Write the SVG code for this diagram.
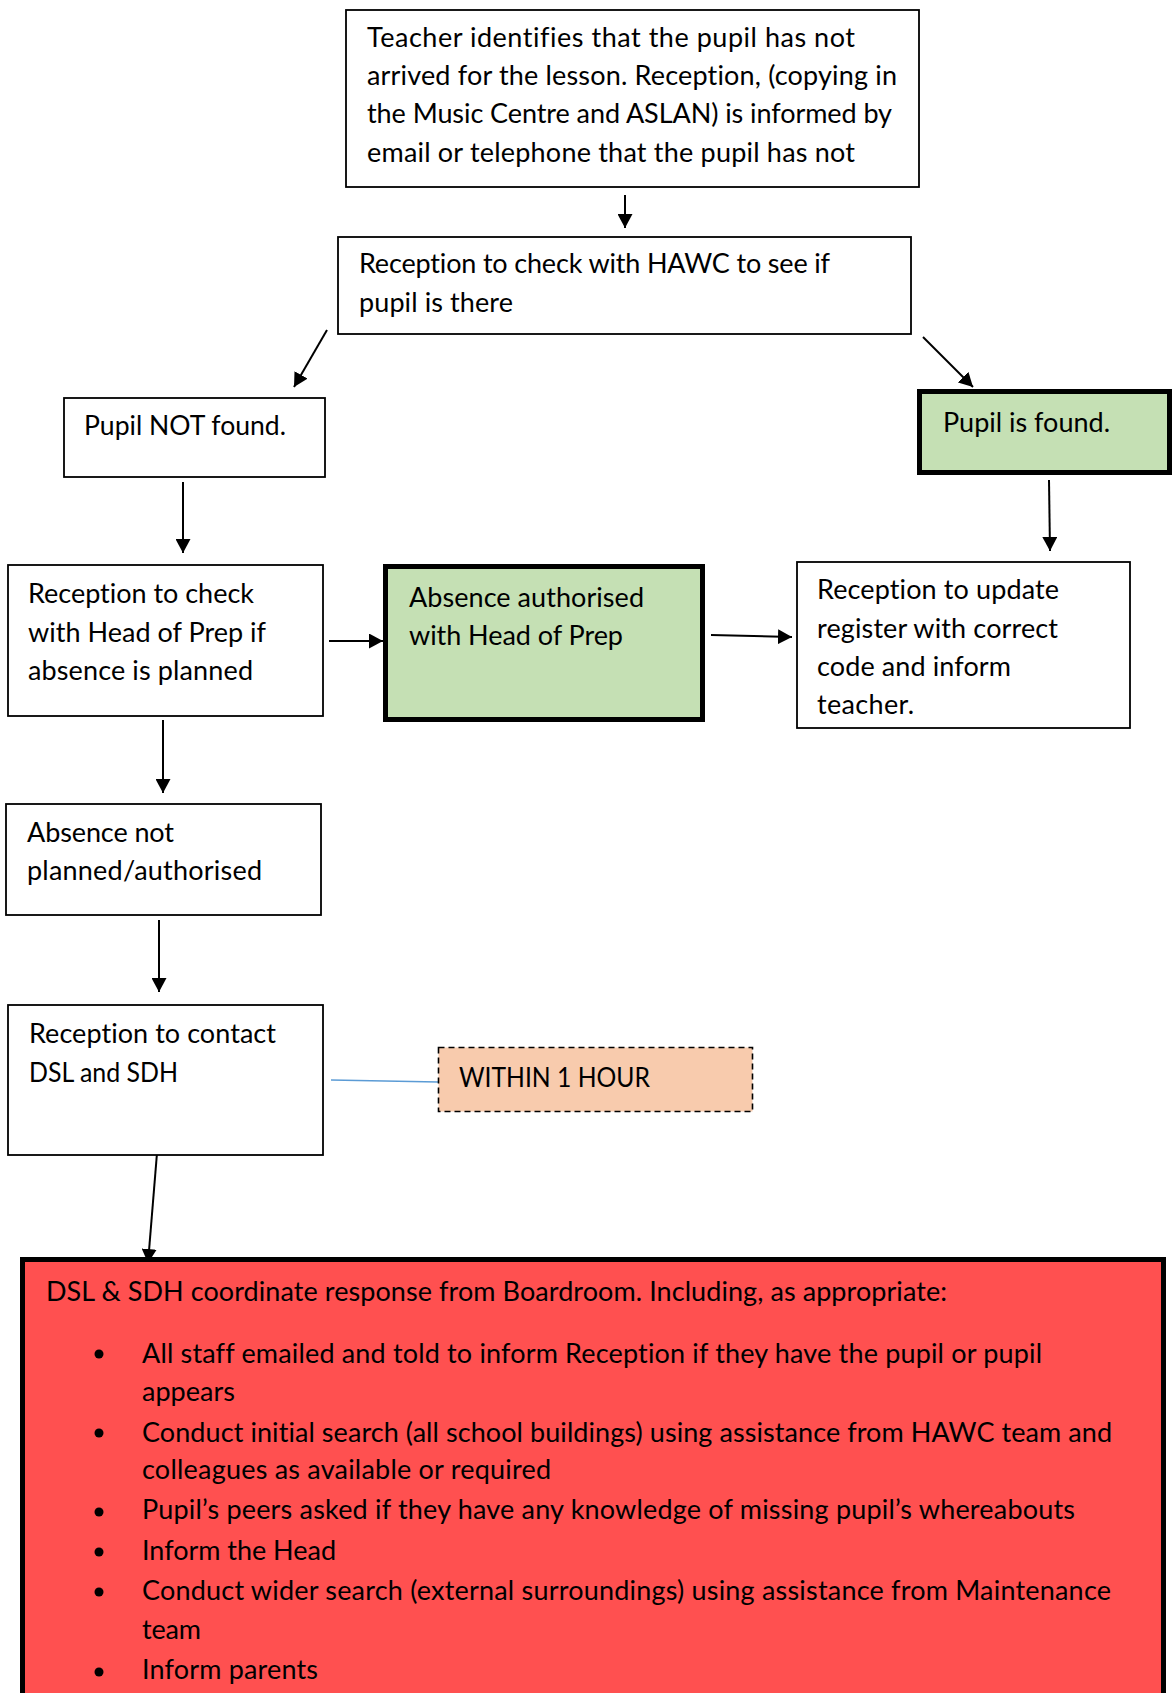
<svg xmlns="http://www.w3.org/2000/svg" width="1173" height="1693" viewBox="0 0 1173 1693">
<style>
  .box { fill: #ffffff; stroke: #000000; stroke-width: 1.8; }
  .green { fill: #C5E0B4; stroke: #000000; stroke-width: 5; }
  .red { fill: #FF5050; stroke: #000000; stroke-width: 5; }
  .dash { fill: #F8CBAD; stroke: #000000; stroke-width: 1.6; stroke-dasharray: 6 4; }
  .arrow { stroke: #000000; stroke-width: 2; fill: none; marker-end: url(#ah); }
  .plain { stroke: #5B9BD5; stroke-width: 1.3; fill: none; }
  text { font-family: Lato, "Open Sans", "Liberation Sans", sans-serif; font-size: 27px; fill: #000000; font-variant-ligatures: none; }
</style>
<defs>
  <marker id="ah" markerUnits="userSpaceOnUse" markerWidth="14" markerHeight="15" refX="14" refY="7.5" orient="auto">
    <path d="M0,0 L14,7.5 L0,15 z" fill="#000000"/>
  </marker>
</defs>
<rect width="1173" height="1693" fill="#ffffff"/>

<g id="connectors">
  <line class="arrow" x1="625" y1="195" x2="625" y2="228"/>
  <line class="arrow" x1="327" y1="330" x2="294" y2="387"/>
  <line class="arrow" x1="923" y1="337" x2="973" y2="387"/>
  <line class="arrow" x1="183" y1="482" x2="183" y2="553"/>
  <line class="arrow" x1="1049" y1="480" x2="1050" y2="551"/>
  <line class="arrow" x1="329" y1="641" x2="383" y2="641"/>
  <line class="arrow" x1="711" y1="635" x2="792" y2="637"/>
  <line class="arrow" x1="163" y1="720" x2="163" y2="793"/>
  <line class="arrow" x1="159" y1="920" x2="159" y2="992"/>
  <line class="arrow" x1="157" y1="1153" x2="148" y2="1263"/>
  <line class="plain" x1="331" y1="1080" x2="438" y2="1082"/>
</g>

<g id="teacher-identifies">
  <rect class="box" x="346" y="10" width="573" height="177"/>
  <text x="367" y="47" textLength="488">Teacher identifies that the pupil has not</text>
  <text x="367" y="85" textLength="530">arrived for the lesson. Reception, (copying in</text>
  <text x="367" y="123" textLength="525">the Music Centre and ASLAN) is informed by</text>
  <text x="367" y="162" textLength="488">email or telephone that the pupil has not</text>
</g>

<g id="check-hawc">
  <rect class="box" x="338" y="237" width="573" height="97"/>
  <text x="359" y="273" textLength="471">Reception to check with HAWC to see if</text>
  <text x="359" y="312" textLength="154">pupil is there</text>
</g>

<g id="pupil-not-found">
  <rect class="box" x="64" y="398" width="261" height="79"/>
  <text x="84" y="435" textLength="202" lengthAdjust="spacingAndGlyphs">Pupil NOT found.</text>
</g>

<g id="pupil-found">
  <rect class="green" x="919.5" y="391.5" width="250" height="81"/>
  <text x="943" y="432" textLength="167">Pupil is found.</text>
</g>

<g id="check-head-of-prep">
  <rect class="box" x="8" y="565" width="315" height="151"/>
  <text x="28" y="603" textLength="226">Reception to check</text>
  <text x="28" y="642" textLength="238">with Head of Prep if</text>
  <text x="28" y="680" textLength="225">absence is planned</text>
</g>

<g id="absence-authorised">
  <rect class="green" x="385.5" y="566.5" width="317" height="153"/>
  <text x="409" y="607" textLength="235">Absence authorised</text>
  <text x="409" y="645" textLength="214">with Head of Prep</text>
</g>

<g id="update-register">
  <rect class="box" x="797" y="562" width="333" height="166"/>
  <text x="817" y="599" textLength="242">Reception to update</text>
  <text x="817" y="638" textLength="241">register with correct</text>
  <text x="817" y="676" textLength="194">code and inform</text>
  <text x="817" y="714" textLength="97">teacher.</text>
</g>

<g id="absence-not-planned">
  <rect class="box" x="6" y="804" width="315" height="111"/>
  <text x="27" y="842" textLength="147">Absence not</text>
  <text x="27" y="880" textLength="235">planned/authorised</text>
</g>

<g id="contact-dsl">
  <rect class="box" x="8" y="1005" width="315" height="150"/>
  <text x="29" y="1043" textLength="247">Reception to contact</text>
  <text x="29" y="1082" textLength="149" lengthAdjust="spacingAndGlyphs">DSL and SDH</text>
</g>

<g id="within-1-hour">
  <rect class="dash" x="438.5" y="1047.5" width="314" height="64"/>
  <text x="459" y="1087" textLength="191" lengthAdjust="spacingAndGlyphs">WITHIN 1 HOUR</text>
</g>

<g id="coordinate-response">
  <rect class="red" x="22.5" y="1259.5" width="1141" height="500"/>
  <text x="46" y="1301" textLength="901">DSL &amp; SDH coordinate response from Boardroom. Including, as appropriate:</text>
  <circle cx="99" cy="1354" r="4.5" fill="#000000"/>
  <text x="142" y="1363" textLength="900">All staff emailed and told to inform Reception if they have the pupil or pupil</text>
  <text x="142" y="1401" textLength="93">appears</text>
  <circle cx="99" cy="1433" r="4.5" fill="#000000"/>
  <text x="142" y="1442" textLength="970">Conduct initial search (all school buildings) using assistance from HAWC team and</text>
  <text x="142" y="1479" textLength="409">colleagues as available or required</text>
  <circle cx="99" cy="1512" r="4.5" fill="#000000"/>
  <text x="142" y="1519" textLength="933">Pupil’s peers asked if they have any knowledge of missing pupil’s whereabouts</text>
  <circle cx="99" cy="1552" r="4.5" fill="#000000"/>
  <text x="142" y="1560" textLength="194">Inform the Head</text>
  <circle cx="99" cy="1592" r="4.5" fill="#000000"/>
  <text x="142" y="1600" textLength="969">Conduct wider search (external surroundings) using assistance from Maintenance</text>
  <text x="142" y="1639" textLength="59">team</text>
  <circle cx="99" cy="1672" r="4.5" fill="#000000"/>
  <text x="142" y="1679" textLength="176">Inform parents</text>
</g>
</svg>
